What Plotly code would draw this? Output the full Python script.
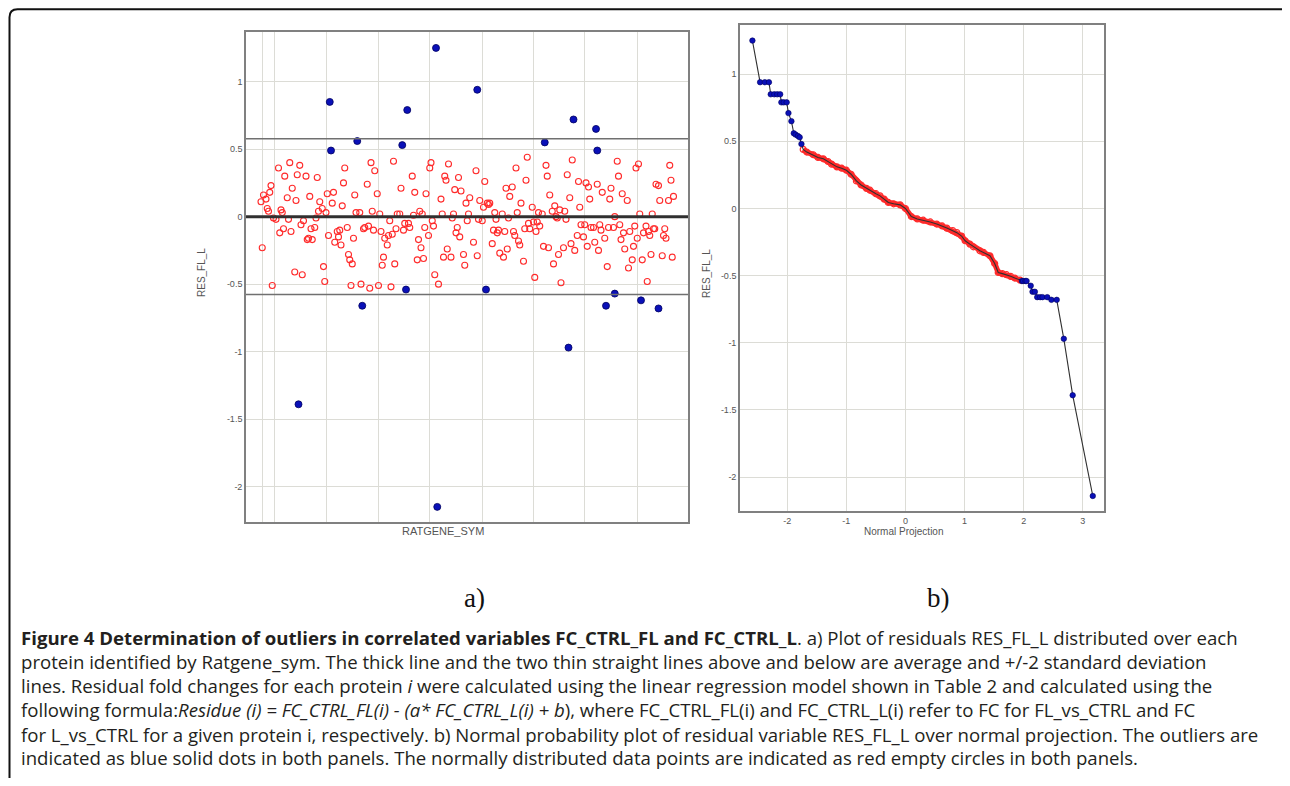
import plotly.graph_objects as go

# page body has an 8px default margin; the figure is sized/offset to fill the 1290x786 window
OFF = 8
W, H = 1290 - OFF, 786 - 2 * OFF

# ---------------- Panel a) residuals RES_FL_L per protein (RATGENE_SYM order) ----------------
red_idx = [12, 14, 16, 17, 18, 19, 20, 13, 21, 22, 24, 26, 27, 28, 29, 30, 31, 33, 34, 35, 36, 37, 39, 40, 41,
           43, 44, 45, 46, 48, 49, 50, 51, 52, 53, 55, 56, 57, 58, 59, 61, 62, 63, 64, 65, 66, 69, 70, 71, 73,
           74, 75, 76, 77, 78, 79, 81, 82, 83, 84, 85, 86, 87, 88, 91, 92, 94, 95, 97, 98, 99, 100, 101, 102,
           103, 105, 106, 107, 108, 109, 110, 111, 113, 114, 115, 116, 117, 118, 119, 120, 121, 123, 124, 126,
           127, 130, 131, 133, 134, 135, 137, 138, 139, 140, 141, 142, 143, 144, 146, 147, 148, 149, 150, 151,
           154, 156, 157, 158, 159, 160, 161, 162, 164, 165, 166, 167, 168, 169, 170, 171, 172, 174, 175, 176,
           177, 178, 179,
           182, 184, 185, 186, 187, 189, 190, 191, 193, 194, 195, 197, 198, 199, 200, 201, 202, 203, 205, 206,
           207, 208, 209, 210, 211, 213, 214, 215, 216, 217, 218, 219, 220, 222, 223, 224, 225, 226, 227, 229,
           230, 231, 232, 233, 234, 235, 237, 238, 240, 241, 242, 243, 245, 246, 247, 248, 249, 250, 251, 252,
           254, 255, 256, 257, 259, 260, 261, 263, 265, 266, 267, 268, 270, 271, 272, 273, 274, 275, 276, 278,
           279, 281, 282, 283, 284, 285, 287, 289, 290, 291, 292, 294, 295, 297, 298, 299, 300, 301, 302, 303,
           305, 306, 307, 309, 310, 311, 312, 313, 314, 315, 317, 318, 320, 321, 322, 323, 324, 325, 326, 327,
           328, 330, 331, 333, 334, 335, 336, 338, 339, 340, 341, 342]
red_res = [0.11, 0.16, 0.13, 0.06, 0.04, 0.18, 0.23, -0.23, -0.51, -0.01, -0.02, 0.36, -0.12, 0.05, 0.03, -0.09,
           0.30, 0.14, -0.02, 0.40, -0.11, 0.21, -0.41, 0.12, 0.31,
           0.38, -0.06, -0.43, -0.03, 0.30, -0.17, -0.16, 0.15, -0.09, -0.17, -0.08, -0.01, 0.29, 0.04, 0.11,
           0.06, -0.37, -0.48, 0.03, 0.17, -0.14, 0.10, 0.18, -0.19, -0.11,
           -0.15, -0.10, -0.21, 0.08, 0.25, 0.36, -0.08, -0.28, -0.32, -0.51, -0.35, -0.16, 0.16, 0.03, 0.03,
           -0.50, -0.09, -0.08, 0.24, -0.07, -0.53, 0.40, 0.04, -0.10,
           0.34, 0.17, -0.51, 0.02, -0.11, -0.36, -0.30, -0.16, -0.21, -0.14, -0.03, -0.52, -0.13, 0.41, -0.35,
           -0.09, 0.02, 0.02, 0.21, -0.10,
           -0.05, -0.05, -0.08, 0.30, 0.01, 0.18, -0.32, -0.17, 0.04, -0.23, 0.02, -0.31, -0.08, 0.17, -0.14,
           0.36, 0.40, -0.03, -0.07, -0.43,
           -0.50, 0.13, 0.02, -0.30, 0.30, 0.27, -0.24, 0.39, -0.30, -0.01, 0.02, 0.20, -0.12, -0.08, 0.29,
           -0.15, 0.19, -0.28, -0.36, 0.10,
           -0.03, 0.02, 0.14,
           -0.19, 0.34, -0.29, -0.02, 0.12, -0.03, 0.07, 0.26, 0.10, 0.09, 0.10, -0.20, -0.10, 0.03, -0.02,
           -0.12, -0.10, -0.27, 0.02, -0.30,
           -0.11, 0.21, -0.24, -0.01, 0.15, 0.22, -0.11, -0.14, 0.36, 0.03, -0.18, -0.21, 0.10, -0.33, -0.09,
           0.27, 0.44, -0.05, -0.09, 0.07,
           -0.04, -0.45, -0.11, -0.04, 0.03, -0.07, 0.02, -0.22, 0.38, 0.30, -0.23, 0.16, 0.04, -0.35, 0.08,
           0.00, -0.01, -0.28, 0.05, -0.49,
           -0.23, 0.04, -0.02, 0.31, 0.14, -0.20, 0.42, -0.25, -0.14, 0.26, 0.07, -0.06, -0.15, -0.06, 0.25,
           -0.22, 0.22, 0.13, -0.08, -0.08,
           -0.19, 0.24, -0.25, -0.06, -0.10, 0.18, -0.16, -0.37, -0.08, 0.13, 0.21, -0.08, 0.00, 0.41, 0.30,
           -0.06, -0.17, 0.17, -0.12, -0.24,
           0.12, -0.38, -0.11, -0.32, -0.22, -0.07, 0.36, -0.16, 0.39, 0.02, -0.32, -0.12, -0.07, -0.48, -0.11,
           -0.14, -0.28, 0.02, -0.09, -0.09,
           0.24, 0.23, 0.12, -0.29, -0.14, -0.09, -0.16, 0.12, 0.38, 0.27, -0.30, 0.15]

blue_idx = [67, 68, 89, 125, 129, 152, 185, 239, 262, 280, 281,
            42, 93, 128, 153, 192, 258, 288, 295, 316, 330]
blue_res = [0.85, 0.49, 0.56, 0.53, 0.79, 1.25, 0.94, 0.55, 0.72, 0.65, 0.49,
            -1.39, -0.66, -0.54, -2.15, -0.54, -0.97, -0.66, -0.57, -0.62, -0.68]

mean_res = 0.0
sd2_res = 0.577
a_xrange = [0, 353.6]
a_yrange = [-2.262, 1.368]
a_xgrid = [13, 23, 64, 106, 147, 189, 230, 271, 313]

y_tickvals = [1, 0.5, 0, -0.5, -1, -1.5, -2]
y_ticktext = ["1", "0.5", "0", "-0.5", "-1", "-1.5", "-2"]

# ---------------- Panel b) normal probability plot ----------------
hi_q = [-2.59, -2.46, -2.38, -2.31, -2.28, -2.22, -2.17, -2.12, -2.10, -2.06, -2.01, -1.98, -1.93,
        -1.89, -1.86, -1.82, -1.79, -1.76]
hi_r = [1.25, 0.94, 0.94, 0.94, 0.85, 0.85, 0.85, 0.85, 0.79, 0.79, 0.79, 0.71, 0.65,
        0.56, 0.55, 0.54, 0.53, 0.48]
mid_q = [-1.73, -1.67, -1.56, -1.48, -1.39, -1.31, -1.25, -1.16, -1.08, -1.00, -0.92, -0.83, -0.75,
         -0.66, -0.60, -0.50, -0.43, -0.36, -0.29, -0.20, -0.09, 0.00, 0.10, 0.20, 0.30, 0.42, 0.53,
         0.62, 0.70, 0.80, 0.87, 0.95, 1.01, 1.09, 1.15, 1.26, 1.32, 1.43, 1.51, 1.57, 1.64, 1.71,
         1.78, 1.85, 1.94]
mid_r = [0.44, 0.42, 0.40, 0.38, 0.37, 0.35, 0.33, 0.31, 0.30, 0.285, 0.255, 0.205, 0.175,
         0.15, 0.136, 0.11, 0.094, 0.07, 0.045, 0.035, 0.027, 0.0, -0.06, -0.078, -0.087, -0.10, -0.116,
         -0.13, -0.146, -0.165, -0.18, -0.205, -0.24, -0.265, -0.285, -0.315, -0.327, -0.352, -0.41,
         -0.476, -0.485, -0.493, -0.505, -0.518, -0.533]
lo_q = [1.97, 1.99, 2.03, 2.05, 2.12, 2.15, 2.19, 2.23, 2.28, 2.32, 2.40, 2.47, 2.56, 2.68, 2.83, 3.17]
lo_r = [-0.54, -0.54, -0.54, -0.54, -0.575, -0.62, -0.62, -0.66, -0.66, -0.66, -0.66, -0.68, -0.68,
        -0.97, -1.39, -2.14]
b_xrange = [-2.8, 3.36]
b_yrange = [-2.252, 1.366]
b_xticks = [-2, -1, 0, 1, 2, 3]

RED = "#ff2a2a"
BLUE = "#0a10b8"
GRID = "#dcdcd6"
FRAME = "#808080"
TICKFONT = dict(family="Liberation Sans, Arial, sans-serif", size=9, color="#555555")


def px_x(p):
    return (p - OFF) / W


def px_y(p):
    return 1 - (p - OFF) / H


fig = go.Figure()

# panel a
fig.add_trace(go.Scatter(x=red_idx, y=red_res, mode="markers", xaxis="x", yaxis="y",
                         marker=dict(symbol="circle-open", size=6, color=RED, line=dict(width=1.1, color=RED)),
                         showlegend=False, hoverinfo="skip"))
fig.add_trace(go.Scatter(x=blue_idx, y=blue_res, mode="markers", xaxis="x", yaxis="y",
                         marker=dict(symbol="circle", size=7, color=BLUE, line=dict(width=0.8, color="#000060")),
                         showlegend=False, hoverinfo="skip"))

# panel b
all_q = hi_q + mid_q + lo_q
all_r = hi_r + mid_r + lo_r
fig.add_trace(go.Scatter(x=mid_q, y=mid_r, mode="lines", xaxis="x2", yaxis="y2",
                         line=dict(color=RED, width=5.5), showlegend=False, hoverinfo="skip"))
fig.add_trace(go.Scatter(x=mid_q, y=mid_r, mode="markers", xaxis="x2", yaxis="y2",
                         marker=dict(symbol="circle-open", size=6, color=RED, line=dict(width=1.2, color=RED)),
                         showlegend=False, hoverinfo="skip"))
fig.add_trace(go.Scatter(x=all_q, y=all_r, mode="lines", xaxis="x2", yaxis="y2",
                         line=dict(color="#303030", width=1.1), showlegend=False, hoverinfo="skip"))
fig.add_trace(go.Scatter(x=hi_q + lo_q, y=hi_r + lo_r, mode="markers", xaxis="x2", yaxis="y2",
                         marker=dict(symbol="circle", size=5.5, color=BLUE, line=dict(width=0.6, color="#000060")),
                         showlegend=False, hoverinfo="skip"))

axis_common = dict(showline=True, mirror=True, linecolor=FRAME, linewidth=1.6,
                   gridcolor=GRID, gridwidth=1.4, zeroline=False, ticks="",
                   tickfont=TICKFONT, fixedrange=True)

fig.update_layout(
    width=W, height=H, autosize=False,
    margin=dict(l=0, r=0, t=0, b=0),
    paper_bgcolor="white", plot_bgcolor="white",
    xaxis=dict(domain=[px_x(246), px_x(688)], range=a_xrange, tickvals=a_xgrid,
               showticklabels=False, anchor="y", **axis_common),
    yaxis=dict(domain=[px_y(522), px_y(32)], range=a_yrange, tickvals=y_tickvals,
               ticktext=y_ticktext, anchor="x", **axis_common),
    xaxis2=dict(domain=[px_x(740), px_x(1104)], range=b_xrange, tickvals=b_xticks,
                ticktext=[str(v) for v in b_xticks], anchor="y2", **axis_common),
    yaxis2=dict(domain=[px_y(511), px_y(25)], range=b_yrange, tickvals=y_tickvals,
                ticktext=y_ticktext, anchor="x2", **axis_common),
)

# mean and +/- 2 SD lines on panel a
fig.add_shape(type="line", xref="x", yref="y", x0=a_xrange[0], x1=a_xrange[1], y0=mean_res, y1=mean_res,
              line=dict(color="#303030", width=3), layer="above")
for v in (sd2_res, -sd2_res):
    fig.add_shape(type="line", xref="x", yref="y", x0=a_xrange[0], x1=a_xrange[1], y0=v, y1=v,
                  line=dict(color="#707070", width=1.5), layer="above")

# outer rounded frame (top edge kept just inside the figure)
fx, fy, r = 9.5, 9.2, 8
path = (f"M {px_x(fx)},{px_y(800)} L {px_x(fx)},{px_y(fy + r)} "
        f"Q {px_x(fx)},{px_y(fy)} {px_x(fx + r)},{px_y(fy)} L {px_x(1300)},{px_y(fy)}")
fig.add_shape(type="path", xref="paper", yref="paper", path=path,
              line=dict(color="#111111", width=2), layer="above")

axis_title_font = dict(family="Liberation Sans, Arial, sans-serif", size=10, color="#555555")
ann = [
    dict(text="RES_FL_L", x=px_x(201), y=px_y(272), textangle=-90, font=axis_title_font),
    dict(text="RATGENE_SYM", x=px_x(443), y=px_y(531),
         font=dict(family="Liberation Sans, Arial, sans-serif", size=11, color="#555555")),
    dict(text="RES_FL_L", x=px_x(706), y=px_y(274), textangle=-90, font=axis_title_font),
    dict(text="Normal Projection", x=px_x(903), y=px_y(531), font=axis_title_font),
    dict(text="a)", x=px_x(474), y=px_y(598),
         font=dict(family="Liberation Serif, DejaVu Serif, serif", size=27, color="#111111")),
    dict(text="b)", x=px_x(938), y=px_y(598),
         font=dict(family="Liberation Serif, DejaVu Serif, serif", size=27, color="#111111")),
]
for a in ann:
    fig.add_annotation(xref="paper", yref="paper", showarrow=False, xanchor="center", yanchor="middle", **a)

caption_lines = [
    "<b>Figure 4 Determination of outliers in correlated variables FC_CTRL_FL and FC_CTRL_L</b>. "
    "a) Plot of residuals RES_FL_L distributed over each",
    "protein identified by Ratgene_sym. The thick line and the two thin straight lines above and below "
    "are average and +/-2 standard deviation",
    "lines. Residual fold changes for each protein <i>i</i> were calculated using the linear regression "
    "model shown in Table 2 and calculated using the",
    "following formula:<i>Residue (i) = FC_CTRL_FL(i) - (a* FC_CTRL_L(i) + b</i>), where FC_CTRL_FL(i) "
    "and FC_CTRL_L(i) refer to FC for FL_vs_CTRL and FC",
    "for L_vs_CTRL for a given protein i, respectively. b) Normal probability plot of residual variable "
    "RES_FL_L over normal projection. The outliers are",
    "indicated as blue solid dots in both panels. The normally distributed data points are indicated as "
    "red empty circles in both panels.",
]
cap_y = [637, 661, 685, 709, 734, 757]
for txt, yy in zip(caption_lines, cap_y):
    fig.add_annotation(xref="paper", yref="paper", showarrow=False, xanchor="left", yanchor="middle",
                       x=px_x(19), y=px_y(yy), text=txt, align="left",
                       font=dict(family="Open Sans, Noto Sans, sans-serif", size=18.6, color="#231f20"))

fig.write_html("out.html")
